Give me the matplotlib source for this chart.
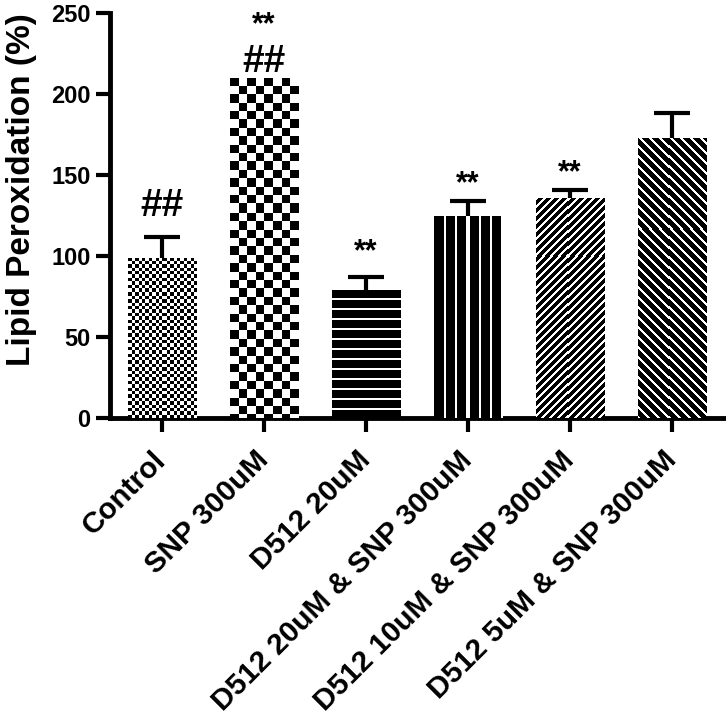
import matplotlib
matplotlib.use('Agg')
import matplotlib.pyplot as plt
import matplotlib.transforms as mtransforms
import numpy as np

# data
groups = ['Control', 'SNP 300uM', 'D512 20uM', 'D512 20uM & SNP 300uM',
          'D512 10uM & SNP 300uM', 'D512 5uM & SNP 300uM']
means = [99, 210, 79, 125, 136, 173]
sems = [13, 0, 8, 9, 5, 15]
marks = [['##'], ['##', '**'], ['**'], ['**'], ['**'], []]

# styling
patterns = ['fine_check', 'coarse_check', 'hlines', 'vlines', 'diag_up', 'diag_down']
mark_offsets = [15, 4, 12, 6, 6, 0]   # points above the error bar end

plt.rcParams['font.family'] = ['Liberation Sans', 'DejaVu Sans']
plt.rcParams['font.weight'] = 'bold'

fig = plt.figure(figsize=(7.26, 7.2), dpi=100)
ax = fig.add_axes([110 / 726, 302 / 720, 616 / 726, 405 / 720])

x = np.arange(len(groups))
xlim = (-0.51, 5.53)
ax.set_xlim(*xlim)
ax.set_ylim(0, 250)

bars = ax.bar(x, means, width=0.667, color='black', linewidth=0, zorder=2)

# textures for the bars, built on the pixel grid of the axes and clipped to each bar
fig.canvas.draw()
bb = ax.get_window_extent()
W, H = int(round(bb.width)), int(round(bb.height))
ii, jj = np.mgrid[0:H, 0:W].astype(float)


def texture(kind, u, v):
    if kind == 'fine_check':
        return (np.floor(u / 3.4) + np.floor(v / 3.4)) % 2
    if kind == 'coarse_check':
        return (np.floor(u / 8.4) + np.floor(v / 8.4)) % 2
    if kind == 'hlines':
        return ((v % 10) >= 7.6).astype(float)
    if kind == 'vlines':
        return ((u % 11.35) >= 9.2).astype(float)
    if kind == 'diag_up':
        return ((np.round(u + v) % 8) < 3).astype(float)
    if kind == 'diag_down':
        return ((np.round(u - v) % 10) < 3).astype(float)
    return np.zeros_like(u)


for bar, kind in zip(bars, patterns):
    px0 = round(ax.transData.transform((bar.get_x(), 0))[0] - bb.x0)
    py0 = round(bb.y1 - ax.transData.transform((0, bar.get_height()))[1])
    img = texture(kind, jj - px0, ii - py0)
    im = ax.imshow(img, cmap='gray', vmin=0, vmax=1, interpolation='none',
                   extent=(xlim[0], xlim[1], 0, 250), origin='upper', aspect='auto', zorder=3)
    im.set_clip_path(bar)

# error bars (upper half only visible, lower half hidden behind the bars)
sem_arr = np.array(sems, dtype=float)
mean_arr = np.array(means, dtype=float)
show = sem_arr > 0
ax.errorbar(x[show], mean_arr[show], yerr=sem_arr[show], fmt='none', ecolor='black',
            elinewidth=3, capsize=13, capthick=3, zorder=1)

# significance marks
for xi, m, s, labs, off in zip(x, means, sems, marks, mark_offsets):
    y = m + s
    dy = off
    for lab in labs:
        if lab == '##':
            ax.annotate(lab, (xi, y), xytext=(0, dy), textcoords='offset points',
                        ha='center', va='baseline', fontsize=28, fontweight='bold')
            dy += 28
        else:
            ax.annotate(lab, (xi, y), xytext=(0, dy), textcoords='offset points',
                        ha='center', va='baseline', fontsize=22, fontweight='bold')
            dy += 20

for side in ['top', 'right']:
    ax.spines[side].set_visible(False)
for side in ['left', 'bottom']:
    ax.spines[side].set_linewidth(3.5)

ax.set_yticks([0, 50, 100, 150, 200, 250])
ax.tick_params(axis='y', length=10, width=3, pad=4, labelsize=17)
ax.tick_params(axis='x', length=10, width=3, pad=10, labelsize=21.3)
ax.set_xticks(x)
ax.set_xticklabels(groups, rotation=45, ha='right', va='top', rotation_mode='anchor')
shift = mtransforms.ScaledTranslation(-0.1, 0.0, fig.dpi_scale_trans)
for lab in ax.get_xticklabels():
    lab.set_transform(lab.get_transform() + shift)

ax.set_ylabel('Lipid Peroxidation (%)', fontsize=24, fontweight='bold')
ax.yaxis.set_label_coords(-0.118, 0.563)

fig.savefig('out.png', dpi=100)
